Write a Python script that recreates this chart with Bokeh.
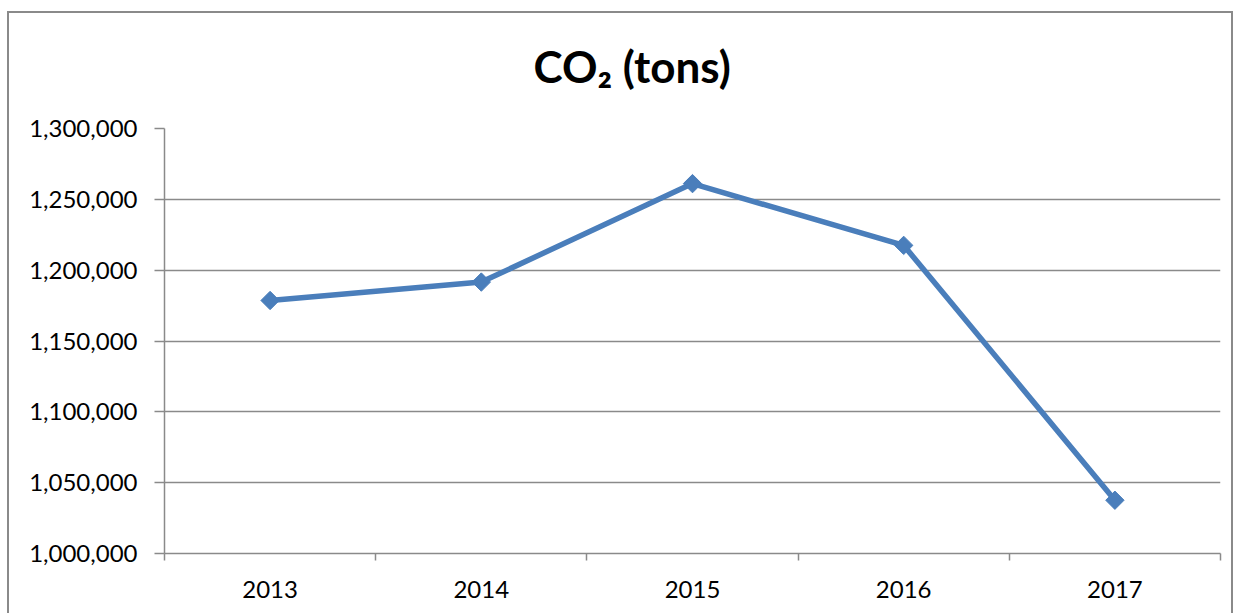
import numpy as np
from bokeh.plotting import figure
from bokeh.models import (Range1d, FixedTicker, NumeralTickFormatter,
                          ColumnDataSource, InlineStyleSheet)
from bokeh.embed import file_html
from bokeh.resources import INLINE

# ---- data ----
years = ["2013", "2014", "2015", "2016", "2017"]
co2_tons = [1178600, 1191600, 1261100, 1217500, 1037600]
y_ticks = [1000000, 1050000, 1100000, 1150000, 1200000, 1250000, 1300000]
title_text = "CO\u2082 (tons)"

W, H = 1241, 613
FONT = "Lato"
GRID = "#8a8a8a"
LINE = "#4a7ebb"

xpos = [i + 0.5 for i in range(len(years))]
src = ColumnDataSource(dict(x=xpos, y=co2_tons, year=years))

p = figure(width=W, height=H, output_backend="svg", toolbar_location=None,
           x_range=Range1d(0, len(years)), y_range=Range1d(y_ticks[0], y_ticks[-1]),
           min_border_left=164, min_border_right=21, min_border_top=128,
           min_border_bottom=60)
p.outline_line_color = None
p.background_fill_color = "white"
p.border_fill_color = "white"

# outer chart border (decoration of the chart area)
p.stylesheets = [InlineStyleSheet(css=(
    ":host::after { content: ''; position: absolute; left: 7px; top: 11px; "
    "width: 1226px; height: 602px; border: 2px solid #8a8a8a; border-bottom: none; "
    "box-sizing: border-box; pointer-events: none; }"
))]

# title
p.title.text = title_text
p.title.align = "left"
p.title.offset = 369
p.title.standoff = 74
p.title.text_font = FONT
p.title.text_font_style = "bold"
p.title.text_font_size = "44px"
p.title.text_color = "black"

# y axis
p.yaxis.ticker = FixedTicker(ticks=y_ticks)
p.yaxis.formatter = NumeralTickFormatter(format="0,0")
p.yaxis.axis_line_color = GRID
p.yaxis.axis_line_width = 1.5
p.yaxis.major_tick_line_color = GRID
p.yaxis.major_tick_line_width = 1.5
p.yaxis.major_tick_out = 10
p.yaxis.major_tick_in = 0
p.yaxis.minor_tick_line_color = None
p.yaxis.major_label_standoff = 17
p.yaxis.major_label_text_font = FONT
p.yaxis.major_label_text_font_size = "24px"
p.yaxis.major_label_text_color = "black"

# x axis: labels at category centres, tick marks at category boundaries
p.xaxis.ticker = FixedTicker(ticks=xpos, minor_ticks=list(range(len(years) + 1)))
p.xaxis.major_label_overrides = {x: y for x, y in zip(xpos, years)}
p.xaxis.axis_line_color = GRID
p.xaxis.axis_line_width = 1.5
p.xaxis.major_tick_line_color = None
p.xaxis.major_tick_out = 7
p.xaxis.minor_tick_line_color = GRID
p.xaxis.minor_tick_line_width = 1.5
p.xaxis.minor_tick_out = 7
p.xaxis.minor_tick_in = 0
p.xaxis.major_label_standoff = 20
p.xaxis.major_label_text_font = FONT
p.xaxis.major_label_text_font_size = "24px"
p.xaxis.major_label_text_color = "black"

p.xgrid.grid_line_color = None
p.ygrid.grid_line_color = GRID
p.ygrid.grid_line_width = 1.5

p.line("x", "y", source=src, line_color=LINE, line_width=5.5)
p.scatter("x", "y", source=src, marker="square", angle=np.pi / 4, size=13,
          fill_color=LINE, line_color=LINE)

open("out.html", "w").write(file_html(p, INLINE))
